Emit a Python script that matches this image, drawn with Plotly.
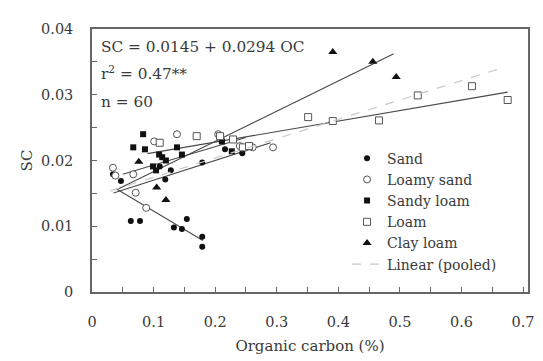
import plotly.graph_objects as go

# ---- data ----
sand_x = [0.034, 0.047, 0.063, 0.078, 0.110, 0.119, 0.133, 0.146, 0.154, 0.179, 0.179, 0.179, 0.244, 0.216, 0.128]
sand_y = [0.0179, 0.0169, 0.0108, 0.0108, 0.0191, 0.0171, 0.0098, 0.0096, 0.0111, 0.0084, 0.0069, 0.0197, 0.0211, 0.0217, 0.0185]

loamy_sand_x = [0.034, 0.038, 0.067, 0.071, 0.088, 0.101, 0.138, 0.205, 0.261, 0.294, 0.240]
loamy_sand_y = [0.0189, 0.0177, 0.0179, 0.0151, 0.0128, 0.0229, 0.0240, 0.0240, 0.0220, 0.0220, 0.0222]

sandy_loam_x = [0.083, 0.067, 0.086, 0.109, 0.114, 0.138, 0.146, 0.099, 0.211, 0.227, 0.120, 0.104]
sandy_loam_y = [0.0240, 0.0220, 0.0217, 0.0209, 0.0205, 0.0220, 0.0209, 0.0191, 0.0229, 0.0214, 0.0200, 0.0185]

loam_x = [0.351, 0.391, 0.466, 0.529, 0.617, 0.675, 0.110, 0.170, 0.208, 0.229, 0.245, 0.255]
loam_y = [0.0266, 0.0260, 0.0261, 0.0299, 0.0313, 0.0292, 0.0227, 0.0237, 0.0237, 0.0232, 0.0220, 0.0222]

clay_loam_x = [0.076, 0.105, 0.120, 0.391, 0.456, 0.494]
clay_loam_y = [0.0198, 0.0159, 0.0140, 0.0365, 0.0350, 0.0327]

# regression lines: intercept, slope, x-range per texture class
fit_names = ["sand", "loamy_sand", "sandy_loam", "loam", "clay_loam"]
fit_intercepts = [0.0179, 0.0140, 0.0165, 0.0196, 0.0137]
fit_slopes = [-0.056, 0.030, 0.028, 0.016, 0.046]
fit_xmin = [0.040, 0.035, 0.050, 0.090, 0.040]
fit_xmax = [0.180, 0.290, 0.250, 0.675, 0.490]

pooled_intercept = 0.0145
pooled_slope = 0.0294
pooled_xrange = [0.03, 0.67]

x_ticks = [0, 0.1, 0.2, 0.3, 0.4, 0.5, 0.6, 0.7]
y_ticks = [0, 0.01, 0.02, 0.03, 0.04]

stat_lines = ["SC = 0.0145 + 0.0294 OC", "r<sup>2</sup> = 0.47**", "n = 60"]

FONT = "DejaVu Serif"
TXT = "#3a3a3a"

fig = go.Figure()

for a, b, x0, x1 in zip(fit_intercepts, fit_slopes, fit_xmin, fit_xmax):
    fig.add_trace(go.Scatter(x=[x0, x1], y=[a + b * x0, a + b * x1], mode="lines",
                             line=dict(color="#4a4a4a", width=1.1), showlegend=False,
                             hoverinfo="skip"))

fig.add_trace(go.Scatter(x=sand_x, y=sand_y, mode="markers", name="Sand",
                         marker=dict(symbol="circle", size=6, color="#111")))
fig.add_trace(go.Scatter(x=loamy_sand_x, y=loamy_sand_y, mode="markers", name="Loamy sand",
                         marker=dict(symbol="circle", size=7, color="white",
                                     line=dict(color="#555", width=1))))
fig.add_trace(go.Scatter(x=sandy_loam_x, y=sandy_loam_y, mode="markers", name="Sandy loam",
                         marker=dict(symbol="square", size=6, color="#111")))
fig.add_trace(go.Scatter(x=loam_x, y=loam_y, mode="markers", name="Loam",
                         marker=dict(symbol="square", size=7, color="white",
                                     line=dict(color="#555", width=1))))
fig.add_trace(go.Scatter(x=clay_loam_x, y=clay_loam_y, mode="markers", name="Clay loam",
                         marker=dict(symbol="triangle-up", size=8, color="#111")))
fig.add_trace(go.Scatter(x=pooled_xrange,
                         y=[pooled_intercept + pooled_slope * v for v in pooled_xrange],
                         mode="lines", name="Linear (pooled)",
                         line=dict(color="#c8c8c8", width=1.2, dash="dash")))

for txt, yy in zip(stat_lines, [0.932, 0.833, 0.722]):
    fig.add_annotation(x=0.016, y=yy, xref="paper", yref="paper", xanchor="left",
                       yanchor="middle", showarrow=False, text=txt,
                       font=dict(family=FONT, size=15.3, color=TXT))

axis_common = dict(showline=True, linecolor="#666", linewidth=1.5, mirror=True,
                   ticks="inside", ticklen=5, tickcolor="#666", showgrid=False, zeroline=False,
                   automargin=False,
                   tickfont=dict(family=FONT, size=14.5, color=TXT),
                   title_font=dict(family=FONT, size=15, color=TXT))

fig.update_xaxes(range=[0, 0.708], tickvals=x_ticks, ticktext=[str(v) for v in x_ticks],
                 minor=dict(dtick=0.05, tick0=0, ticks="inside", ticklen=5, tickcolor="#666"),
                 title_text="Organic carbon (%)", title_standoff=11, ticklabelstandoff=16,
                 **axis_common)
fig.update_yaxes(range=[0, 0.04], tickvals=y_ticks, ticktext=[str(v) for v in y_ticks],
                 minor=dict(dtick=0.005, tick0=0, ticks="inside", ticklen=5, tickcolor="#666"),
                 title_text="SC", title_standoff=5, ticklabelstandoff=14,
                 **axis_common)

# the page body adds an 8px offset, so the figure is 8px smaller and margins are shifted
fig.update_layout(
    width=535, height=353,
    margin=dict(l=84, r=15, t=21, b=69),
    paper_bgcolor="white", plot_bgcolor="white",
    font=dict(family=FONT, size=14, color=TXT),
    legend=dict(x=0.585, y=0.568, xanchor="left", yanchor="top", bgcolor="rgba(0,0,0,0)",
                font=dict(family=FONT, size=14, color=TXT), tracegroupgap=0,
                itemwidth=30),
    showlegend=True,
)

fig.write_html("out.html")
